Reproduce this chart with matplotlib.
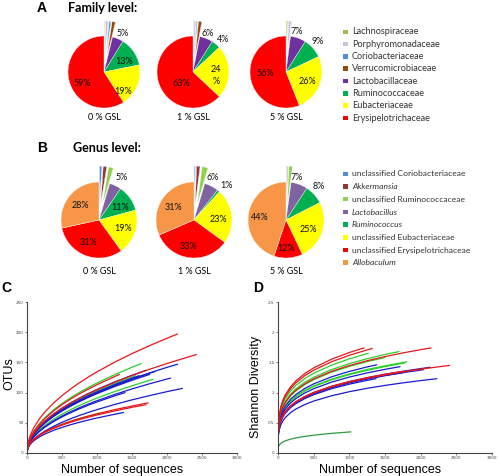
import matplotlib
matplotlib.use("Agg")
import matplotlib.pyplot as plt
from matplotlib.patches import Rectangle

W, H = 498, 476

# ---------------- data ----------------
family_labels = ["Lachnospiraceae", "Porphyromonadaceae", "Coriobacteriaceae",
                 "Verrucomicrobiaceae", "Lactobacillaceae", "Ruminococcaceae",
                 "Eubacteriaceae", "Erysipelotrichaceae"]
family_colors = ["#9bbb59", "#ccc0da", "#558ed5", "#984807",
                 "#7030a0", "#00b050", "#ffff00", "#ff0000"]
family_0 = [0.3, 1.2, 0.8, 1.5, 5, 13, 19, 59]
family_1 = [0.2, 0.8, 0.5, 1.5, 6, 4, 24, 63]
family_5 = [0.6, 1.2, 0.1, 0.1, 7, 9, 26, 56]

genus_labels = ["unclassified Coriobacteriaceae", "Akkermansia",
                "unclassified Ruminococcaceae", "Lactobacillus", "Ruminococcus",
                "unclassified Eubacteriaceae", "unclassified Erysipelotrichaceae",
                "Allobaculum"]
genus_italic = [False, True, False, True, True, False, False, True]
genus_colors = ["#558ed5", "#953735", "#92d050", "#8064a2", "#00b050",
                "#ffff00", "#ff0000", "#f79646"]
genus_0 = [1.0, 1.5, 2.0, 5, 11, 19, 31, 28]
genus_1 = [0.5, 1.5, 2.5, 6, 1, 23, 33, 31]
genus_5 = [0.3, 0.3, 1.5, 7, 8, 25, 12, 44]

pie_titles = ["0 % GSL", "1 % GSL", "5 % GSL"]

# rarefaction curves: (last number of sequences, values at grid points below it, then end value)
otu_grid = [0, 10, 30, 60, 100, 175, 250, 375, 500, 625, 750, 875, 1000,
            1250, 1500, 1750, 2000, 2250]
otu_red = [
    (2150, [0, 9.5, 23.3, 32.9, 42.5, 56.2, 67.2, 82.3, 95.0, 106.2, 116.4, 125.7,
            134.4, 150.2, 164.6, 177.7, 190.0, 197]),
    (2420, [0, 9.5, 18.1, 25.7, 33.1, 43.8, 52.4, 64.2, 74.1, 82.8, 90.7, 98.0,
            104.8, 117.1, 128.3, 138.6, 148.2, 157.1, 163]),
    (1320, [0, 9.5, 19.6, 27.7, 35.8, 47.3, 56.6, 69.3, 80.0, 89.5, 98.0, 105.8,
            113.1, 126.5, 130]),
    (1730, [0, 8.2, 13.4, 18.3, 23.0, 29.6, 34.8, 41.7, 47.5, 52.5, 57.0, 61.1,
            64.9, 71.7, 77.8, 83]),
    (1700, [0, 7.9, 13.0, 17.8, 22.4, 28.8, 33.8, 40.5, 46.1, 51.0, 55.4, 59.3,
            63.0, 69.6, 75.6, 80]),
]
otu_green = [
    (1630, [0, 9.5, 20.1, 28.4, 36.7, 48.5, 58.0, 71.0, 82.0, 91.7, 100.4, 108.4,
            115.9, 129.6, 142.0, 148]),
    (1800, [0, 9.1, 15.7, 22.3, 28.8, 38.0, 45.5, 55.7, 64.3, 71.9, 78.7, 85.0,
            90.9, 101.6, 111.3, 120.3, 122]),
    (1550, [0, 9.5, 17.8, 25.2, 32.5, 43.0, 51.4, 63.0, 72.7, 81.3, 89.0, 96.2,
            102.8, 114.9, 125.9, 128]),
    (1040, [0, 8.2, 13.4, 18.3, 23.0, 29.6, 34.7, 41.7, 47.5, 52.5, 57.0, 61.0,
            64.8, 66]),
    (1450, [0, 9.5, 17.3, 24.4, 31.5, 41.7, 49.8, 61.0, 70.5, 78.8, 86.3, 93.2,
            99.6, 111.4, 120]),
]
otu_blue = [
    (2150, [0, 9.5, 17.4, 24.6, 31.7, 41.9, 50.1, 61.4, 70.9, 79.3, 86.8, 93.8,
            100.2, 112.1, 122.8, 132.6, 141.8, 147]),
    (2050, [0, 8.7, 15.0, 21.2, 27.4, 36.2, 43.3, 53.0, 61.2, 68.5, 75.0, 81.0,
            86.6, 96.8, 106.1, 114.6, 122.5, 124]),
    (2220, [0, 7.2, 12.4, 17.6, 22.7, 30.0, 35.9, 44.0, 50.8, 56.8, 62.2, 67.2,
            71.8, 80.3, 88.0, 95.0, 101.6, 107]),
    (1380, [0, 7.3, 12.0, 16.3, 20.6, 26.5, 31.1, 37.3, 42.4, 46.9, 50.9, 54.6,
            58.0, 64.1, 67]),
    (1830, [0, 9.5, 17.3, 24.4, 31.6, 41.8, 49.9, 61.1, 70.6, 78.9, 86.4, 93.4,
            99.8, 111.6, 122.2, 132.0, 135]),
    (1750, [0, 9.5, 17.0, 24.1, 31.1, 41.1, 49.1, 60.2, 69.5, 77.7, 85.1, 91.9,
            98.3, 109.9, 120.4, 130]),
    (1400, [0, 8.5, 14.6, 20.7, 26.7, 35.4, 42.3, 51.8, 59.8, 66.8, 73.2, 79.1,
            84.5, 94.5, 100]),
    (1700, [0, 9.5, 18.2, 25.7, 33.2, 44.0, 52.5, 64.3, 74.3, 83.1, 91.0, 98.3,
            105.1, 117.5, 128.7, 137]),
    (1600, [0, 9.5, 17.5, 24.8, 32.0, 42.3, 50.6, 62.0, 71.6, 80.0, 87.6, 94.7,
            101.2, 113.1, 123.9, 128]),
]

sh_grid = [0, 5, 15, 40, 70, 100, 175, 250, 375, 500, 750, 1000, 1250, 1500,
           1750, 2000, 2250]
sh_red = [
    (1205, [0, .467, .607, .769, .879, .958, 1.095, 1.193, 1.315, 1.409, 1.553, 1.664, 1.74]),
    (1322, [0, .454, .591, .747, .855, .931, 1.065, 1.160, 1.279, 1.370, 1.510, 1.618, 1.707, 1.73]),
    (2147, [0, .406, .529, .669, .765, .834, .953, 1.038, 1.145, 1.227, 1.352, 1.448, 1.528,
            1.596, 1.657, 1.711, 1.74]),
    (2405, [0, .329, .429, .542, .620, .676, .773, .842, .928, .995, 1.096, 1.175, 1.239,
            1.294, 1.343, 1.387, 1.427, 1.45]),
    (1750, [0, .331, .431, .545, .623, .679, .777, .846, .933, .999, 1.102, 1.180, 1.245,
            1.301, 1.35]),
]
sh_green = [
    (1697, [0, .415, .540, .684, .782, .852, .974, 1.061, 1.170, 1.253, 1.381, 1.480, 1.561,
            1.631, 1.68]),
    (1805, [0, .367, .478, .605, .692, .754, .862, .939, 1.036, 1.110, 1.223, 1.310, 1.383,
            1.444, 1.499, 1.51]),
    (1266, [0, .437, .569, .720, .824, .897, 1.026, 1.118, 1.232, 1.320, 1.455, 1.559, 1.645, 1.65]),
    (1780, [0, .364, .474, .599, .685, .747, .854, .930, 1.025, 1.099, 1.211, 1.297, 1.369,
            1.430, 1.484, 1.49]),
    (1500, [0, .402, .523, .662, .757, .825, .944, 1.028, 1.133, 1.214, 1.338, 1.434, 1.513, 1.58]),
]
sh_darkgreen = [
    (1022, [0, .098, .127, .161, .184, .200, .229, .250, .275, .295, .325, .348, .35]),
]
sh_blue = [
    (2227, [0, .285, .370, .469, .536, .584, .668, .728, .802, .860, .947, 1.015, 1.071,
            1.119, 1.161, 1.199, 1.23]),
    (1374, [0, .320, .416, .526, .602, .656, .750, .817, .901, .965, 1.064, 1.140, 1.203, 1.23]),
    (1711, [0, .352, .459, .581, .664, .723, .827, .901, .993, 1.064, 1.173, 1.257, 1.326,
            1.385, 1.43]),
    (2039, [0, .326, .424, .537, .614, .669, .765, .834, .919, .985, 1.085, 1.163, 1.227,
            1.282, 1.330, 1.373, 1.38]),
    (1383, [0, .379, .493, .624, .714, .777, .889, .968, 1.068, 1.144, 1.261, 1.351, 1.425, 1.46]),
    (1750, [0, .326, .424, .537, .614, .669, .765, .834, .919, .985, 1.085, 1.163, 1.227,
            1.282, 1.33]),
]
sh_purple = [
    (2133, [0, .332, .432, .547, .625, .681, .779, .849, .936, 1.003, 1.105, 1.184, 1.249,
            1.305, 1.354, 1.398, 1.42]),
]

otu_yticks = [0, 50, 100, 150, 200, 250]
sh_yticks = [0, 0.5, 1, 1.5, 2, 2.5]
sh_yticklabels = ["0", "0.5", "1", "1.5", "2", "2.5"]
seq_xticks = [0, 500, 1000, 1500, 2000, 2500, 3000]

# ---------------- figure ----------------
fig = plt.figure(figsize=(W / 100, H / 100), dpi=100)
FONT = "Lato"


def fx(x):
    return x / W


def fy(y):
    return 1 - y / H


def ptext(x, y, s, **kw):
    kw.setdefault("ha", "center")
    kw.setdefault("va", "center")
    kw.setdefault("family", FONT)
    fig.text(fx(x), fy(y), s, **kw)


R = 36
LIM = 1.7


def draw_pie(cx, cy, vals, colors, n_small, r=R):
    S = 2 * r * LIM
    ax = fig.add_axes([fx(cx - S / 2), fy(cy + S / 2), S / W, S / H])
    explode = [0.42] * n_small + [0] * (len(vals) - n_small)
    ax.pie(vals, colors=colors, startangle=90, counterclock=False,
           explode=explode, radius=1,
           wedgeprops=dict(edgecolor="white", linewidth=0.25))
    ax.set_xlim(-LIM, LIM)
    ax.set_ylim(-LIM, LIM)
    ax.set_aspect("equal")
    ax.axis("off")
    return ax


# Panel A
ptext(42, 8, "A", fontsize=10, fontweight="bold", family="Liberation Sans")
ptext(68, 8, "Family level:", fontsize=9, fontweight="bold", ha="left")
fam_centers = [(104, 72), (193, 72), (286, 72)]
for (cx, cy), vals in zip(fam_centers, [family_0, family_1, family_5]):
    draw_pie(cx, cy, vals, family_colors, 4)
for (cx, cy), t in zip(fam_centers, pie_titles):
    ptext(cx, 118, t, fontsize=6.5)

fam_label_pos = [
    [(-22, 11, "59%"), (19, 19, "19%"), (20, -11, "13%"), (19, -39, "5%")],
    [(-12, 11, "63%"), (23, -2, "24"), (23, 9, "%"), (15, -39, "6%"), (30, -33, "4%")],
    [(-21, 2, "56%"), (21, 10, "26%"), (11, -41, "7%"), (32, -31, "9%")],
]
for (cx, cy), labs in zip(fam_centers, fam_label_pos):
    for dx, dy, s in labs:
        ptext(cx + dx, cy + dy, s, fontsize=6.5, color="#111111")

# legend A
for i, (lab, col) in enumerate(zip(family_labels, family_colors)):
    y = 32 + i * 12.3
    fig.patches.append(Rectangle((fx(343), fy(y + 2)), 4.5 / W, 4.5 / H,
                                 transform=fig.transFigure, facecolor=col,
                                 edgecolor="none"))
    ptext(352, y, lab, fontsize=6.6, ha="left", color="#333333")

# Panel B
ptext(42, 148, "B", fontsize=10, fontweight="bold", family="Liberation Sans")
ptext(73, 148, "Genus level:", fontsize=9, fontweight="bold", ha="left")
gen_centers = [(99, 220), (194, 220), (286, 220)]
for (cx, cy), vals in zip(gen_centers, [genus_0, genus_1, genus_5]):
    draw_pie(cx, cy, vals, genus_colors, 3, r=38)
for (cx, cy), t in zip(gen_centers, pie_titles):
    ptext(cx, 271, t, fontsize=6.5)

gen_label_pos = [
    [(-19, -14, "28%"), (-11, 23, "31%"), (24, 8, "19%"), (21, -12, "11%"), (23, -42, "5%")],
    [(-21, -13, "31%"), (-6, 26, "33%"), (24, 0, "23%"), (19, -43, "6%"), (32, -35, "1%")],
    [(-26, -2, "44%"), (0, 28, "12%"), (22, 9, "25%"), (33, -33, "8%"), (11, -43, "7%")],
]
for (cx, cy), labs in zip(gen_centers, gen_label_pos):
    for dx, dy, s in labs:
        ptext(cx + dx, cy + dy, s, fontsize=6.5, color="#111111")

for i, (lab, col, it) in enumerate(zip(genus_labels, genus_colors, genus_italic)):
    y = 174 + i * 12.7
    fig.patches.append(Rectangle((fx(343), fy(y + 2)), 4.5 / W, 4.5 / H,
                                 transform=fig.transFigure, facecolor=col,
                                 edgecolor="none"))
    ptext(352, y, lab, fontsize=6.1, ha="left", color="#333333",
          style="italic" if it else "normal")


# Panels C and D
def rare_axes(left, right, top, bottom):
    ax = fig.add_axes([fx(left), fy(bottom), (right - left) / W, (bottom - top) / H])
    for s in ["top", "right"]:
        ax.spines[s].set_visible(False)
    for s in ["left", "bottom"]:
        ax.spines[s].set_color("#444444")
        ax.spines[s].set_linewidth(0.8)
    ax.tick_params(labelsize=3, colors="#444444", length=1.5, width=0.5, pad=1)
    return ax


def draw_curves(ax, grid, curves, color, lw=0.9):
    for end_x, ys in curves:
        xs = [g for g in grid if g < end_x] + [end_x]
        ax.plot(xs, ys, color=color, lw=lw, solid_capstyle="round",
                solid_joinstyle="round")


axc = rare_axes(27, 237, 302, 453)
draw_curves(axc, otu_grid, otu_green, "#2ad12a")
draw_curves(axc, otu_grid, otu_blue, "#1a1ad0")
draw_curves(axc, otu_grid, otu_red, "#e8161b")
axc.set_xlim(0, 3000)
axc.set_ylim(0, 250)
axc.set_xticks(seq_xticks)
axc.set_yticks(otu_yticks)

axd = rare_axes(278, 492, 302, 453)
draw_curves(axd, sh_grid, sh_darkgreen, "#2e9a40")
draw_curves(axd, sh_grid, sh_green, "#2ad12a")
draw_curves(axd, sh_grid, sh_blue, "#1a1ad0")
draw_curves(axd, sh_grid, sh_purple, "#5a1890")
draw_curves(axd, sh_grid, sh_red, "#e8161b")
axd.set_xlim(0, 3000)
axd.set_ylim(0, 2.5)
axd.set_xticks(seq_xticks)
axd.set_yticks(sh_yticks)
axd.set_yticklabels(sh_yticklabels)

ptext(6, 288, "C", fontsize=10, fontweight="bold", family="Liberation Sans")
ptext(258, 288, "D", fontsize=10, fontweight="bold", family="Liberation Sans")
ptext(122, 470, "Number of sequences", fontsize=9, family="Liberation Sans")
ptext(380, 470, "Number of sequences", fontsize=9, family="Liberation Sans")
ptext(9, 374, "OTUs", fontsize=9, rotation=90, family="Liberation Sans")
ptext(256, 387, "Shannon Diversity", fontsize=9, rotation=90, family="Liberation Sans")

fig.savefig("out.png", dpi=100)
